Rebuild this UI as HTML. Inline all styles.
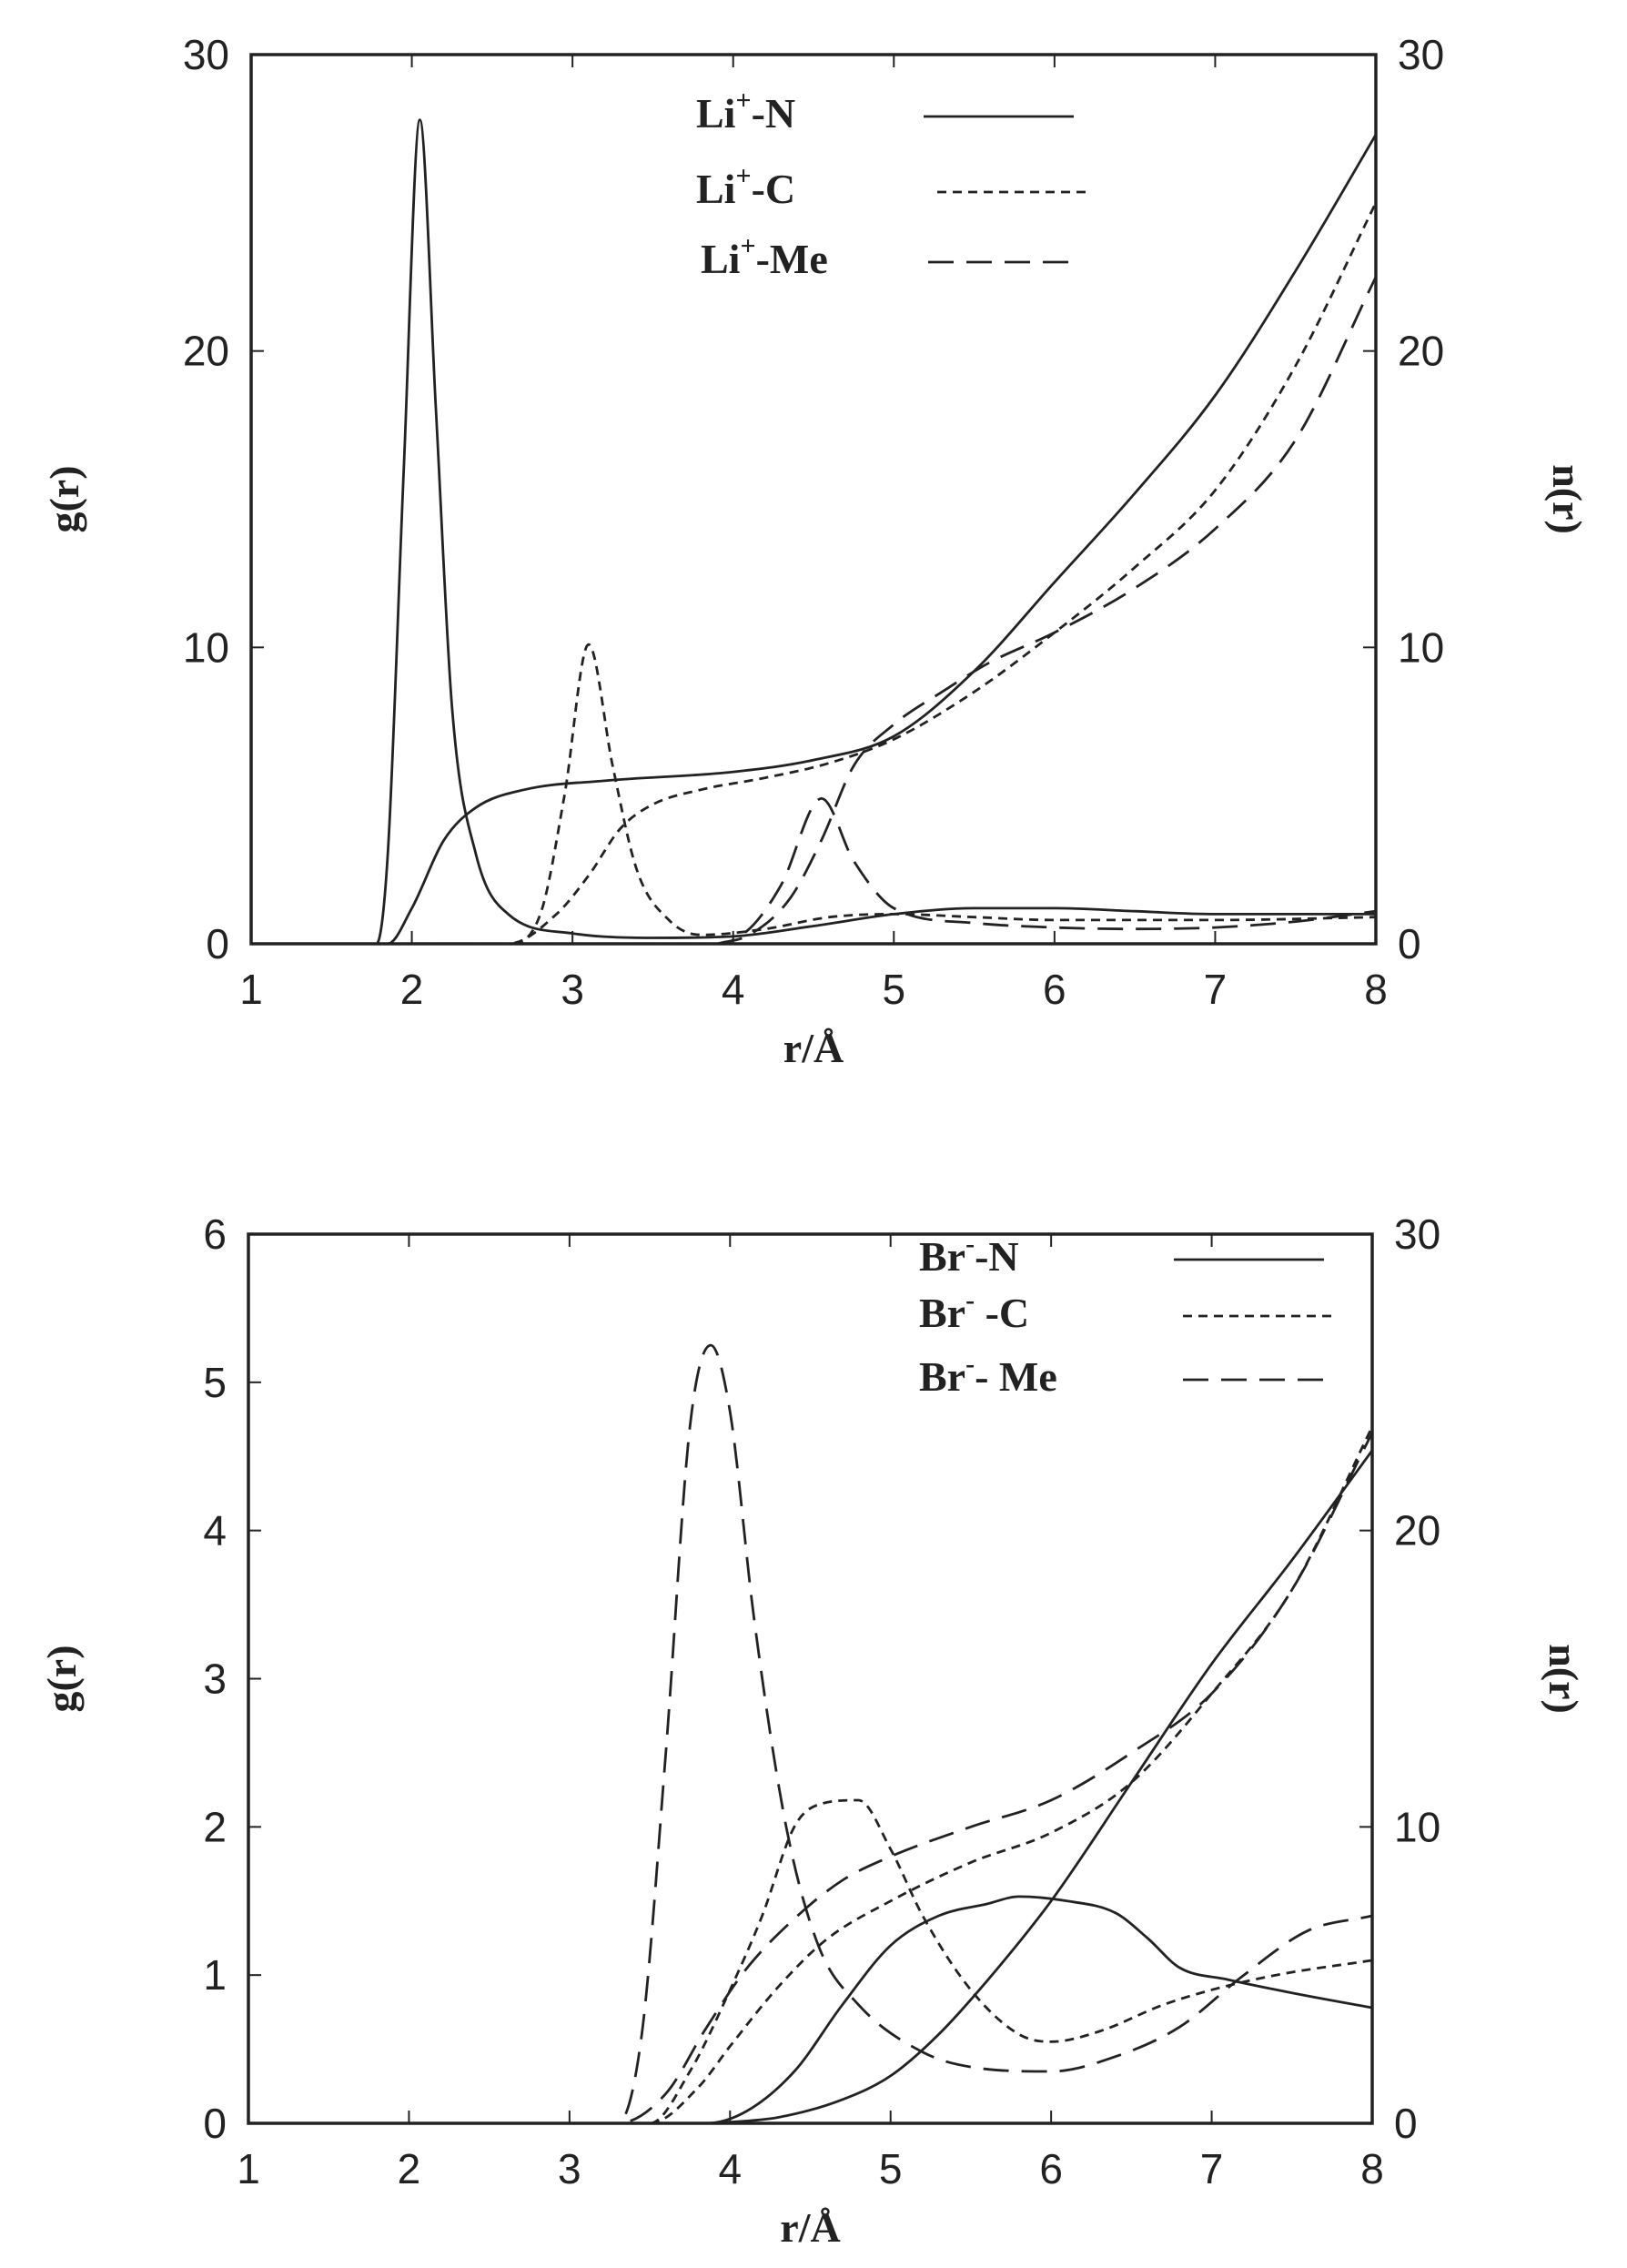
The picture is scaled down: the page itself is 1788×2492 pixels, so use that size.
<!DOCTYPE html>
<html><head><meta charset="utf-8"><style>
html,body{margin:0;padding:0;background:#fff;}
svg{display:block;}
.t{font-family:"Liberation Sans",sans-serif;font-size:46px;fill:#222;}
.s{font-family:"Liberation Serif",serif;font-size:46px;font-weight:bold;fill:#222;}
</style></head><body>
<svg id="c" width="1788" height="2492" xmlns="http://www.w3.org/2000/svg">
<rect width="1788" height="2492" fill="#fff"/>
<g id="g"></g>
</svg>
<script>
const NS="http://www.w3.org/2000/svg";const G=document.getElementById('g');
function el(t,a,txt){const e=document.createElementNS(NS,t);for(const k in a)e.setAttribute(k,a[k]);if(txt!==undefined)e.textContent=txt;G.appendChild(e);return e;}
function mono(pts){const n=pts.length,xs=pts.map(p=>p[0]),ys=pts.map(p=>p[1]);
 const d=[],m=[];for(let i=0;i<n-1;i++)d.push((ys[i+1]-ys[i])/(xs[i+1]-xs[i]));
 m[0]=d[0];m[n-1]=d[n-2];for(let i=1;i<n-1;i++){m[i]=(d[i-1]*d[i]<=0)?0:(d[i-1]+d[i])/2;}
 for(let i=0;i<n-1;i++){if(d[i]===0){m[i]=0;m[i+1]=0;continue;}const a=m[i]/d[i],b=m[i+1]/d[i],h=a*a+b*b;if(h>9){const t=3/Math.sqrt(h);m[i]=t*a*d[i];m[i+1]=t*b*d[i];}}
 let s="M"+xs[0].toFixed(1)+","+ys[0].toFixed(1);
 for(let i=0;i<n-1;i++){const h=(xs[i+1]-xs[i])/3;s+=" C"+(xs[i]+h).toFixed(1)+","+(ys[i]+m[i]*h).toFixed(1)+" "+(xs[i+1]-h).toFixed(1)+","+(ys[i+1]-m[i+1]*h).toFixed(1)+" "+xs[i+1].toFixed(1)+","+ys[i+1].toFixed(1);}
 return s;}
const dash={s:"none",d:"10,7",l:"28,14"};
function plot(P){
 const X=r=>P.x0+(r-1)*(P.x1-P.x0)/7, Yg=v=>P.y1-v*(P.y1-P.y0)/P.gmax, Yn=v=>P.y1-v*(P.y1-P.y0)/30;
 el('rect',{x:P.x0,y:P.y0,width:P.x1-P.x0,height:P.y1-P.y0,fill:'none',stroke:'#222','stroke-width':3.5});
 for(let r=1;r<=8;r++){const x=X(r);el('line',{x1:x,y1:P.y1,x2:x,y2:P.y1-14,stroke:'#222','stroke-width':2});el('line',{x1:x,y1:P.y0,x2:x,y2:P.y0+14,stroke:'#222','stroke-width':2});
 el('text',{x:x,y:P.y1+66,'text-anchor':'middle',class:'t'},String(r));}
 P.gt.forEach(v=>{const y=Yg(v);el('line',{x1:P.x0,y1:y,x2:P.x0+14,y2:y,stroke:'#222','stroke-width':2});el('text',{x:P.x0-24,y:y+16,'text-anchor':'end',class:'t'},String(v));});
 [0,10,20,30].forEach(v=>{const y=Yn(v);el('line',{x1:P.x1,y1:y,x2:P.x1-14,y2:y,stroke:'#222','stroke-width':2});el('text',{x:P.x1+24,y:y+16,class:'t'},String(v));});
 el('text',{x:0,y:0,class:'s','text-anchor':'middle',transform:`translate(${P.x0-190},${(P.y0+P.y1)/2}) rotate(-90)`},'g(r)');
 el('text',{x:0,y:0,class:'s','text-anchor':'middle',transform:`translate(${P.x1+195},${(P.y0+P.y1)/2}) rotate(90)`},'n(r)');
 el('text',{x:(P.x0+P.x1)/2,y:P.y1+130,'text-anchor':'middle',class:'s'},'r/Å');
 P.curves.forEach(c=>{const pts=c.p.map(q=>[X(q[0]),c.n?Yn(q[1]):Yg(q[1])]);
  el('path',{d:mono(pts),fill:'none',stroke:'#222','stroke-width':2.8,'stroke-dasharray':dash[c.t]});});
 P.leg.forEach(l=>{const t=el('text',{x:l.x,y:l.y,class:'s'});
  t.appendChild(document.createTextNode(l.a));const sp=document.createElementNS(NS,'tspan');sp.setAttribute('dy','-20');sp.setAttribute('font-size','30');sp.textContent=l.sup;t.appendChild(sp);
  const sp2=document.createElementNS(NS,'tspan');sp2.setAttribute('dy','20');sp2.textContent=l.b;t.appendChild(sp2);
  el('line',{x1:l.lx0,y1:l.y-12,x2:l.lx1,y2:l.y-12,stroke:'#222','stroke-width':2.8,'stroke-dasharray':dash[l.t]});});
}
plot({x0:276,x1:1512,y0:60,y1:1037,gmax:30,gt:[0,10,20,30],
curves:[
{t:'s',p:[[1,0],[1.78,0],[1.85,3],[1.95,16],[2.05,27.8],[2.15,18],[2.25,8],[2.4,3],[2.6,1],[3,0.35],[3.5,0.2],[4,0.25],[4.5,0.6],[5,1.0],[5.5,1.2],[6,1.2],[6.5,1.1],[7,1.0],[8,1.0]]},
{t:'s',n:1,p:[[1,0],[1.85,0],[2.0,1.2],[2.2,3.5],[2.4,4.6],[2.7,5.2],[3.2,5.5],[4.0,5.8],[4.5,6.2],[5,7.0],[5.5,9.2],[6,12.2],[6.5,15.2],[7,18.5],[7.5,22.7],[8,27.3]]},
{t:'d',p:[[1,0],[2.6,0],[2.8,1],[2.95,5],[3.1,10.1],[3.25,6],[3.4,2.5],[3.6,0.8],[3.8,0.3],[4.2,0.5],[4.6,0.9],[5,1.0],[5.5,0.9],[6,0.8],[7,0.8],[8,0.9]]},
{t:'d',n:1,p:[[1,0],[2.6,0],[2.9,1],[3.1,2.3],[3.3,3.9],[3.5,4.7],[3.8,5.2],[4.2,5.6],[4.6,6.1],[5,6.9],[5.5,8.5],[6,10.5],[6.5,12.7],[7,15.3],[7.5,19.5],[8,25]]},
{t:'l',p:[[1,0],[3.9,0],[4.1,0.5],[4.3,2],[4.55,4.9],[4.75,2.8],[5.0,1.2],[5.5,0.7],[6,0.55],[6.5,0.5],[7,0.55],[7.5,0.75],[8,1.1]]},
{t:'l',n:1,p:[[3.9,0],[4.1,0.3],[4.35,1.5],[4.55,3.5],[4.75,6],[5.0,7.4],[5.3,8.5],[5.6,9.5],[6,10.5],[6.5,12],[7,14],[7.5,17],[8,22.5]]}
],
leg:[{x:765,y:140,a:'Li',sup:'+',b:'-N',lx0:1015,lx1:1180,t:'s'},{x:765,y:223,a:'Li',sup:'+',b:'-C',lx0:1030,lx1:1195,t:'d'},{x:770,y:300,a:'Li',sup:'+',b:'-Me',lx0:1020,lx1:1185,t:'l'}]});
plot({x0:273,x1:1508,y0:1356,y1:2333,gmax:6,gt:[0,1,2,3,4,5,6],
curves:[
{t:'s',p:[[1,0],[3.85,0],[4.1,0.08],[4.4,0.35],[4.7,0.8],[5,1.2],[5.3,1.4],[5.6,1.48],[5.8,1.53],[6.1,1.5],[6.4,1.42],[6.6,1.25],[6.8,1.05],[7.1,0.97],[7.5,0.88],[8,0.78]]},
{t:'s',n:1,p:[[3.9,0],[4.3,0.2],[4.7,0.8],[5,1.6],[5.3,3],[5.6,4.8],[6,7.5],[6.5,11.5],[7,15.5],[7.5,19],[8,22.7]]},
{t:'d',p:[[1,0],[3.5,0],[3.75,0.35],[4.0,0.9],[4.2,1.4],[4.4,2.0],[4.55,2.15],[4.8,2.18],[5.0,1.85],[5.2,1.4],[5.5,0.9],[5.8,0.6],[6,0.55],[6.3,0.62],[6.7,0.8],[7,0.9],[7.4,1.0],[8,1.1]]},
{t:'d',n:1,p:[[1,0],[3.5,0],[3.8,1.2],[4.0,2.6],[4.3,4.6],[4.6,6.2],[5,7.5],[5.5,8.8],[6,9.8],[6.5,11.5],[7,14.5],[7.5,18],[8,23.5]]},
{t:'l',p:[[1,0],[3.3,0],[3.45,0.6],[3.6,2.5],[3.75,4.7],[3.88,5.25],[4.0,4.8],[4.15,3.4],[4.35,2.0],[4.55,1.2],[4.8,0.8],[5.2,0.48],[5.5,0.38],[6,0.35],[6.4,0.45],[6.8,0.65],[7.2,1.0],[7.6,1.3],[8,1.4]]},
{t:'l',n:1,p:[[1,0],[3.3,0],[3.6,1],[3.85,3.2],[4.1,5.2],[4.4,6.9],[4.7,8.2],[5,9],[5.5,10],[6,10.9],[6.5,12.5],[7,14.5],[7.5,18],[8,23.3]]}
],
leg:[{x:1010,y:1396,a:'Br',sup:'-',b:'-N',lx0:1290,lx1:1455,t:'s'},{x:1010,y:1458,a:'Br',sup:'-',b:' -C',lx0:1300,lx1:1465,t:'d'},{x:1010,y:1528,a:'Br',sup:'-',b:'- Me',lx0:1300,lx1:1465,t:'l'}]});
</script>
</body></html>
